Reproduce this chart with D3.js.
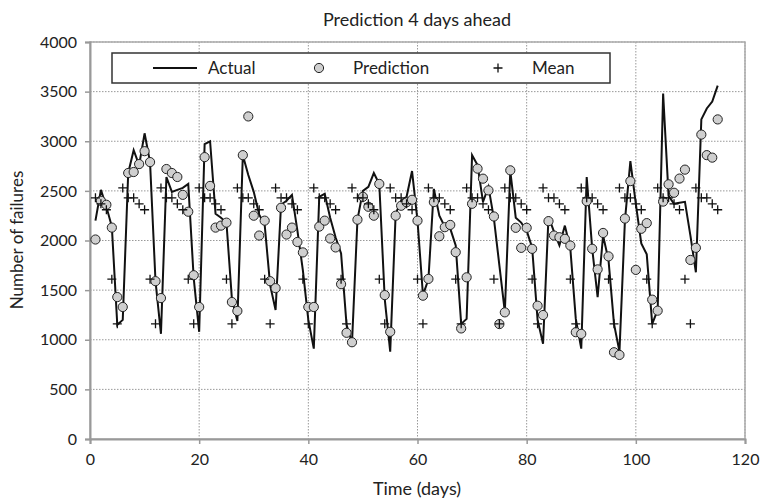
<!DOCTYPE html>
<html>
<head>
<meta charset="utf-8">
<script src="https://cdn.jsdelivr.net/npm/d3@7"></script>
<style>
  body { margin: 0; background: #fff; }
  text { font-family: Lato, "Open Sans", sans-serif; fill: #222; }
</style>
</head>
<body>
<script>
// days 1..115
var actual = [2200,2510,2340,2140,1150,1200,2680,2910,2760,3080,
  2790,1590,1060,2640,2490,2510,2530,2570,1620,1080,
  2970,3000,2270,2230,2180,1410,1190,2860,2660,2490,
  2260,2160,1550,1300,2360,2400,2460,2100,1700,1200,
  910,2440,2470,2230,2030,1870,1150,970,2210,2500,
  2540,2680,2570,1410,880,2270,2400,2440,2700,2200,
  1450,1610,2520,2250,2140,2120,1950,1160,1210,2860,
  2760,2390,2540,2220,1750,1280,2700,2230,2180,2100,
  1930,1200,960,2240,2090,1950,2150,1920,1210,910,
  2640,1920,1430,2050,1800,1160,880,2200,2800,2370,
  1970,1860,1160,1300,3480,2450,2370,2380,2390,2050,
  1680,3220,3330,3400,3560];

var prediction = [2010,2400,2360,2130,1430,1330,2680,2690,2770,2900,
  2790,1590,1420,2720,2680,2640,2460,2290,1650,1330,
  2840,2550,2130,2150,2180,1380,1290,2860,3250,2250,
  2050,2200,1590,1520,2330,2060,2130,1985,1880,1330,
  1330,2140,2200,2020,1930,1560,1070,975,2210,2440,
  2340,2250,2570,1450,1080,2250,2350,2385,2410,2200,
  1444,1613,2387,2043,2134,2157,1882,1114,1629,2370,
  2724,2623,2505,2242,1158,1276,2707,2128,1926,2128,
  1916,1343,1249,2195,2050,2033,2017,1949,1076,1059,
  2396,1917,1709,2076,1840,874,847,2221,2598,1704,
  2118,2175,1404,1293,2392,2566,2481,2624,2714,1804,
  1926,3067,2860,2835,3220];

var mean = [2430,2370,2310,1610,1160,2530,2430,2430,2370,2310,
  1610,1160,2530,2430,2430,2370,2310,1610,1160,2530,
  2430,2430,2370,2310,1610,1160,2530,2430,2430,2370,
  2310,1610,1160,2530,2430,2430,2370,2310,1610,1160,
  2530,2430,2430,2370,2310,1610,1160,2530,2430,2430,
  2370,2310,1610,1160,2530,2430,2430,2370,2310,1610,
  1160,2530,2430,2430,2370,2310,1610,1160,2530,2430,
  2430,2370,2310,1610,1160,2530,2430,2430,2370,2310,
  1610,1160,2530,2430,2430,2370,2310,1610,1160,2530,
  2430,2430,2370,2310,1610,1160,2530,2430,2430,2370,
  2310,1610,1160,2530,2430,2430,2370,2310,1610,1160,
  2530,2430,2430,2370,2310];

var xTicks = [0,20,40,60,80,100,120];
var yTicks = [0,500,1000,1500,2000,2500,3000,3500,4000];
var legendNames = ["Actual","Prediction","Mean"];

var W = 760, H = 500;
var margin = {top: 42, right: 15, bottom: 61, left: 90};
var w = W - margin.left - margin.right, h = H - margin.top - margin.bottom;

var svg = d3.select("body").append("svg").attr("width", W).attr("height", H);
var g = svg.append("g").attr("transform", "translate(" + margin.left + "," + margin.top + ")");

var x = d3.scaleLinear().domain([0,120]).range([0, w]);
var y = d3.scaleLinear().domain([0,4000]).range([h, 0]);

var data = actual.map(function(v, i) {
  return {day: i + 1, actual: v, pred: prediction[i], mean: mean[i]};
});

// grid
g.selectAll(".hgrid").data(yTicks.slice(1)).enter().append("line")
  .attr("x1", 0).attr("x2", w)
  .attr("y1", d => y(d)).attr("y2", d => y(d))
  .attr("stroke", "#999").attr("stroke-dasharray", "1.5,1.5");
g.selectAll(".vgrid").data(xTicks.slice(1)).enter().append("line")
  .attr("y1", 0).attr("y2", h)
  .attr("x1", d => x(d)).attr("x2", d => x(d))
  .attr("stroke", "#999").attr("stroke-dasharray", "1.5,1.5");

// frame
g.append("rect").attr("width", w).attr("height", h)
  .attr("fill", "none").attr("stroke", "#aaa").attr("stroke-width", 1.5);

// axes
var xAxis = g.append("g").attr("transform", "translate(0," + h + ")")
  .call(d3.axisBottom(x).tickValues(xTicks).tickFormat(d3.format("d")).tickSize(5).tickPadding(10));
var yAxis = g.append("g")
  .call(d3.axisLeft(y).tickValues(yTicks).tickFormat(d3.format("d")).tickSize(5).tickPadding(8));
[xAxis, yAxis].forEach(function(a) {
  a.select(".domain").attr("stroke", "#999").attr("stroke-width", 2);
  a.selectAll(".tick line").attr("stroke", "#999").attr("stroke-width", 1.5);
  a.selectAll("text").style("font-size", "16px").style("font-family", "Lato, sans-serif").attr("fill", "#222");
});

// actual line
var line = d3.line().x(d => x(d.day)).y(d => y(d.actual));
g.append("path").datum(data).attr("d", line)
  .attr("fill", "none").attr("stroke", "#111").attr("stroke-width", 2)
  .attr("stroke-linejoin", "miter");

// predictions
g.selectAll(".pred").data(data).enter().append("circle")
  .attr("cx", d => x(d.day)).attr("cy", d => y(d.pred)).attr("r", 4.6)
  .attr("fill", "#cfcfcf").attr("stroke", "#222").attr("stroke-width", 1);

// mean
g.selectAll(".mean").data(data).enter().append("path")
  .attr("transform", d => "translate(" + x(d.day) + "," + y(d.mean) + ")")
  .attr("d", "M-4.5,0H4.5M0,-4.5V4.5")
  .attr("stroke", "#111").attr("stroke-width", 1.3).attr("fill", "none");

// legend
var lg = svg.append("g");
lg.append("rect").attr("x", 112).attr("y", 53).attr("width", 498).attr("height", 30)
  .attr("fill", "#fff").attr("stroke", "#333").attr("stroke-width", 1.5);
lg.append("line").attr("x1", 153).attr("x2", 197).attr("y1", 68).attr("y2", 68)
  .attr("stroke", "#111").attr("stroke-width", 2);
lg.append("circle").attr("cx", 319).attr("cy", 68).attr("r", 4.6)
  .attr("fill", "#cfcfcf").attr("stroke", "#222");
lg.append("path").attr("transform", "translate(498,68)").attr("d", "M-4.5,0H4.5M0,-4.5V4.5")
  .attr("stroke", "#111").attr("stroke-width", 1.3);
lg.selectAll(".lt").data(legendNames).enter().append("text")
  .attr("x", (d, i) => [208, 353, 532][i]).attr("y", 68).attr("dy", "0.35em")
  .style("font-size", "17px").text(d => d);

// title and axis labels
svg.append("text").attr("x", 417).attr("y", 20).attr("dy", "0.35em")
  .attr("text-anchor", "middle").style("font-size", "18px").text("Prediction 4 days ahead");
svg.append("text").attr("x", 417).attr("y", 489).attr("dy", "0.35em")
  .attr("text-anchor", "middle").style("font-size", "18px").text("Time (days)");
svg.append("text").attr("transform", "translate(17,240) rotate(-90)").attr("dy", "0.35em")
  .attr("text-anchor", "middle").style("font-size", "17px").text("Number of failures");
</script>
</body>
</html>
